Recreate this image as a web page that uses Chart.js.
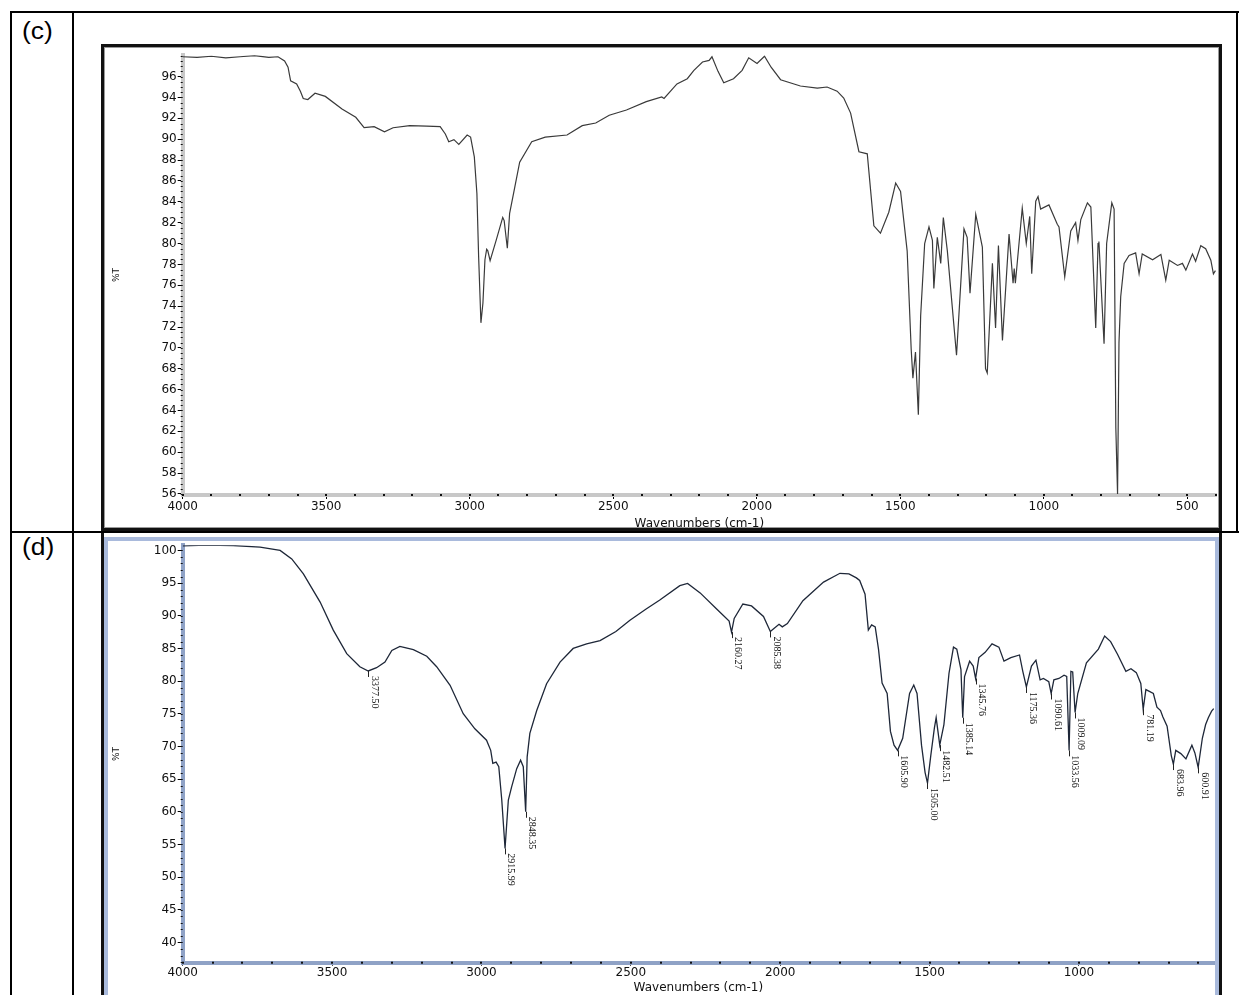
<!DOCTYPE html>
<html>
<head>
<meta charset="utf-8">
<script src="https://cdn.jsdelivr.net/npm/chart.js@4.4.0/dist/chart.umd.min.js"></script>
<style>
html, body { margin: 0; padding: 0; background: #fff; }
body { width: 1239px; height: 995px; position: relative; overflow: hidden; font-family: "Liberation Sans", Arial, sans-serif; }
.ln { position: absolute; background: #000; }
.lab { position: absolute; font-size: 23px; line-height: 23px; transform: scaleX(1.15); transform-origin: left top; color: #000; font-weight: normal; }
#frameC { position: absolute; left: 101px; top: 44px; width: 1121px; height: 487px; box-sizing: border-box; border: 3px solid #111; box-shadow: inset 0 0 0 1px #9a9a9a; }
#frameD { position: absolute; left: 101px; top: 533px; width: 1121px; height: 470px; box-sizing: border-box; border-left: 3px solid #111; border-right: 3px solid #111; }
#innerD { position: absolute; left: 104px; top: 537px; width: 1115px; height: 470px; box-sizing: border-box; border: 4px solid #a9badc; }
canvas { position: absolute; }
</style>
</head>
<body>
<div class="ln" style="left:10px;top:11px;width:1229px;height:2px"></div>
<div class="ln" style="left:10px;top:11px;width:2px;height:984px"></div>
<div class="ln" style="left:72px;top:11px;width:2px;height:984px"></div>
<div class="ln" style="left:1236px;top:11px;width:2px;height:522px"></div>
<div class="ln" style="left:10px;top:531px;width:1229px;height:2px"></div>
<div class="lab" style="left:22px;top:20px">(c)</div>
<div class="lab" style="left:22px;top:536px">(d)</div>
<div id="frameC"></div>
<div id="frameD"></div>
<div id="innerD"></div>
<canvas id="chartC" width="1113" height="484" style="left:105px;top:47px"></canvas>
<canvas id="chartD" width="1110" height="458" style="left:105px;top:537px"></canvas>
<script>
// spectrum (c)
const wavenumbersC = [4000, 3950, 3900, 3850, 3800, 3750, 3700, 3668, 3645, 3633, 3624, 3603, 3590, 3580, 3564, 3539, 3503, 3445, 3397, 3368,
  3333, 3297, 3267, 3209, 3150, 3103, 3085, 3073, 3055, 3038, 3009, 2997, 2984, 2975, 2969, 2961, 2954, 2947, 2941, 2937,
  2929, 2908, 2885, 2880, 2869, 2861, 2843, 2826, 2784, 2737, 2661, 2608, 2561, 2514, 2454, 2385, 2331, 2323, 2278, 2242,
  2219, 2189, 2166, 2156, 2135, 2115, 2081, 2051, 2028, 1999, 1973, 1950, 1917, 1848, 1789, 1755, 1720, 1697, 1673, 1644,
  1615, 1592, 1569, 1540, 1516, 1499, 1476, 1462, 1456, 1447, 1437, 1429, 1415, 1400, 1388, 1383, 1371, 1359, 1350, 1336,
  1304, 1278, 1267, 1257, 1237, 1214, 1203, 1197, 1179, 1168, 1158, 1144, 1121, 1107, 1103, 1099, 1075, 1061, 1049, 1042,
  1028, 1020, 1011, 982, 953, 947, 927, 906, 889, 881, 871, 848, 836, 819, 811, 808, 790, 781, 763, 755,
  749, 743, 738, 732, 720, 703, 680, 668, 657, 621, 592, 575, 563, 534, 517, 505, 482, 471, 453, 436,
  418, 409, 402];
const transmittanceC = [97.9, 97.85, 97.95, 97.8, 97.9, 98.0, 97.85, 97.9, 97.5, 96.9, 95.6, 95.3, 94.6, 93.9, 93.8, 94.4, 94.1, 92.9, 92.1, 91.1,
  91.2, 90.7, 91.1, 91.3, 91.25, 91.2, 90.5, 89.75, 89.96, 89.5, 90.4, 90.2, 88.3, 84.8, 78.75, 72.4, 74.3, 78.45, 79.45, 79.3,
  78.35, 80.3, 82.5, 82.2, 79.55, 82.9, 85.4, 87.8, 89.75, 90.2, 90.4, 91.3, 91.55, 92.3, 92.8, 93.6, 94.05, 93.9, 95.3, 95.8,
  96.6, 97.4, 97.55, 97.9, 96.5, 95.4, 95.8, 96.6, 97.8, 97.25, 97.95, 96.9, 95.7, 95.1, 94.9, 95.0, 94.6, 93.95, 92.5, 88.8,
  88.6, 81.7, 81.0, 83.0, 85.8, 85.0, 79.3, 69.9, 67.1, 69.6, 63.6, 73.05, 80.0, 81.6, 80.3, 75.7, 80.6, 78.1, 82.5, 79.3,
  69.3, 81.4, 80.6, 75.25, 82.8, 79.65, 68.0, 67.6, 78.1, 71.9, 79.8, 70.7, 80.9, 76.2, 77.6, 76.2, 83.4, 80.0, 82.6, 77.1,
  84.05, 84.5, 83.3, 83.7, 81.85, 81.6, 76.8, 81.2, 82.0, 80.3, 82.3, 83.9, 83.5, 71.9, 80.0, 80.2, 70.4, 80.0, 83.9, 83.3,
  62.35, 56.0, 70.5, 74.9, 78.1, 78.85, 79.1, 77.1, 79.0, 78.45, 78.95, 76.5, 78.4, 77.9, 78.1, 77.45, 79.0, 78.3, 79.8, 79.5,
  78.4, 77.1, 77.4];
const xTicksC = [4000, 3500, 3000, 2500, 2000, 1500, 1000, 500];
const yTicksC = [56, 58, 60, 62, 64, 66, 68, 70, 72, 74, 76, 78, 80, 82, 84, 86, 88, 90, 92, 94, 96];

// spectrum (d)
const wavenumbersD = [4000, 3920, 3831, 3741, 3674, 3635, 3596, 3540, 3496, 3451, 3407, 3379, 3351, 3323, 3300, 3273, 3228, 3183, 3150, 3105,
  3061, 3022, 2983, 2969, 2962, 2951, 2942, 2932, 2921, 2910, 2899, 2882, 2869, 2860, 2852, 2847, 2838, 2815, 2782, 2737,
  2693, 2648, 2603, 2550, 2503, 2450, 2403, 2336, 2310, 2268, 2211, 2171, 2163, 2154, 2125, 2096, 2056, 2033, 2021, 2004,
  1993, 1976, 1924, 1855, 1800, 1770, 1745, 1734, 1716, 1705, 1694, 1682, 1671, 1659, 1642, 1631, 1619, 1607, 1590, 1567,
  1553, 1542, 1527, 1515, 1507, 1496, 1484, 1478, 1472, 1466, 1452, 1435, 1420, 1409, 1395, 1389, 1383, 1366, 1354, 1346,
  1335, 1314, 1291, 1268, 1251, 1228, 1199, 1188, 1176, 1159, 1144, 1130, 1119, 1101, 1093, 1084, 1067, 1050, 1041, 1033,
  1027, 1021, 1013, 1004, 975, 935, 914, 894, 871, 843, 826, 808, 793, 785, 776, 751, 739, 727, 719, 705,
  691, 684, 676, 659, 642, 622, 612, 601, 587, 576, 567, 556, 549];
const transmittanceD = [100.7, 100.8, 100.75, 100.5, 100.0, 98.7, 96.4, 92.1, 87.8, 84.2, 82.2, 81.55, 82.05, 82.9, 84.7, 85.3, 84.8, 83.8, 82.2, 79.35,
  75.0, 72.7, 70.95, 69.4, 67.4, 67.6, 66.9, 61.8, 54.4, 61.8, 63.8, 66.6, 67.9, 66.9, 60.0, 68.4, 72.0, 75.5, 79.6, 82.9,
  85.0, 85.7, 86.2, 87.6, 89.3, 91.0, 92.4, 94.6, 94.95, 93.5, 90.95, 89.2, 87.5, 89.6, 91.8, 91.5, 89.9, 87.6, 88.05, 88.7,
  88.3, 88.8, 92.3, 95.15, 96.5, 96.4, 95.8, 95.4, 93.3, 87.8, 88.6, 88.3, 84.9, 79.7, 78.1, 72.3, 70.2, 69.4, 71.25, 78.1,
  79.4, 78.1, 70.2, 66.0, 64.4, 68.6, 72.8, 74.4, 72.3, 70.2, 73.35, 81.2, 85.2, 84.9, 81.75, 74.4, 80.7, 83.05, 82.3, 80.4,
  83.6, 84.4, 85.7, 85.2, 83.05, 83.6, 84.0, 81.5, 79.1, 82.3, 83.2, 80.2, 80.4, 79.9, 78.1, 80.2, 80.4, 80.9, 80.7, 69.4,
  81.5, 81.4, 75.2, 78.1, 82.8, 84.9, 86.9, 86.05, 84.1, 81.5, 81.9, 81.3, 79.65, 75.7, 78.7, 78.1, 76.0, 75.5, 74.5, 73.1,
  68.6, 67.3, 69.4, 68.9, 68.1, 70.2, 69.0, 66.8, 71.25, 73.35, 74.4, 75.4, 75.8];
const xTicksD = [4000, 3500, 3000, 2500, 2000, 1500, 1000];
const yTicksD = [40, 45, 50, 55, 60, 65, 70, 75, 80, 85, 90, 95, 100];

// peak marks of (d): where they sit on the curve, and their printed text
const peakAtD = [3379, 2921, 2852, 2163, 2033, 1607, 1507, 1466, 1389, 1346, 1176, 1093, 1033, 1013, 785, 684, 601];
const peakLabelsD = ['3377.50', '2915.99', '2848.35', '2160.27', '2085.38', '1605.90', '1505.00', '1482.51', '1385.14',
  '1345.76', '1175.36', '1090.61', '1033.56', '1009.09', '781.19', '683.96', '600.91'];

const tickFont = { family: 'DejaVu Sans', size: 12 };

const minorTicks = {
  id: 'minorTicks',
  afterDraw(chart, args, opts) {
    const { ctx, chartArea: a, scales: { x, y } } = chart;
    ctx.save();
    ctx.fillStyle = '#111';
    const nx = Math.floor((x.max - x.min) / opts.x);
    for (let i = 0; i <= nx; i++) {
      const v = Math.ceil(x.min / opts.x) * opts.x + i * opts.x;
      if (v > x.max) break;
      const px = Math.round(x.getPixelForValue(v));
      ctx.fillRect(px - 1, a.bottom - 1, 2, 2);
    }
    const ny = Math.floor((y.max - y.min) / opts.y);
    for (let i = 0; i <= ny; i++) {
      const v = Math.ceil(y.min / opts.y) * opts.y + i * opts.y;
      if (v > y.max) break;
      const py = Math.round(y.getPixelForValue(v));
      ctx.fillRect(a.left - 2, py, 2, 1);
    }
    ctx.restore();
  }
};

const peakMarks = {
  id: 'peakMarks',
  afterDatasetsDraw(chart) {
    const { ctx, scales: { x, y } } = chart;
    const pts = chart.data.datasets[0].data;
    ctx.save();
    ctx.strokeStyle = '#222';
    ctx.fillStyle = '#111';
    ctx.lineWidth = 1;
    ctx.font = '10px "Liberation Serif"';
    ctx.textAlign = 'left';
    ctx.textBaseline = 'middle';
    peakAtD.forEach((w, i) => {
      let best = pts[0];
      pts.forEach(p => { if (Math.abs(p.x - w) < Math.abs(best.x - w)) best = p; });
      const px = x.getPixelForValue(w);
      const py = y.getPixelForValue(best.y);
      ctx.beginPath();
      ctx.moveTo(Math.round(px) + 0.5, py);
      ctx.lineTo(Math.round(px) + 0.5, py + 6);
      ctx.stroke();
      ctx.save();
      ctx.translate(px + 6, py + 5);
      ctx.rotate(Math.PI / 2);
      ctx.fillText(peakLabelsD[i], 0, 0);
      ctx.restore();
    });
    ctx.restore();
  }
};

function makeSpectrum(id, xs, ys, cfg) {
  const pts = xs.map((w, i) => ({ x: w, y: ys[i] }));
  return new Chart(document.getElementById(id), {
    type: 'line',
    data: {
      datasets: [{
        data: pts,
        borderColor: cfg.lineColor,
        borderWidth: cfg.lineWidth,
        pointRadius: 0,
        tension: 0,
        fill: false
      }]
    },
    options: {
      responsive: false,
      animation: false,
      devicePixelRatio: 1,
      layout: { padding: cfg.padding },
      plugins: {
        legend: { display: false },
        tooltip: { enabled: false },
        minorTicks: { x: 100, y: cfg.minorY }
      },
      scales: {
        x: {
          type: 'linear',
          reverse: true,
          min: cfg.xMin,
          max: 4000,
          afterBuildTicks: s => { s.ticks = cfg.xTicks.map(v => ({ value: v })); },
          afterFit: s => { s.height = cfg.xHeight; },
          ticks: { autoSkip: false, maxRotation: 0, padding: cfg.xPad, color: '#111', font: tickFont, callback: v => String(v) },
          grid: { drawOnChartArea: false, tickLength: cfg.xTickLen, tickColor: '#000', tickWidth: 1 },
          border: { color: cfg.axisColor, width: 4 },
          title: { display: true, text: 'Wavenumbers (cm-1)', color: '#111', font: { family: 'DejaVu Sans', size: 12 }, padding: { top: 0, bottom: 0 } }
        },
        y: {
          type: 'linear',
          min: cfg.yMin,
          max: cfg.yMax,
          afterBuildTicks: s => { s.ticks = cfg.yTicks.map(v => ({ value: v })); },
          afterFit: s => { s.width = 77.7; },
          ticks: { autoSkip: false, padding: 1, color: '#111', font: tickFont, callback: v => String(v) },
          grid: { drawOnChartArea: false, tickLength: 5, tickColor: '#000', tickWidth: 1 },
          border: { color: cfg.axisColor, width: 4 },
          title: { display: true, text: '%T', color: '#111', font: { family: 'DejaVu Sans', size: 9 }, padding: { top: 6, bottom: 0 } }
        }
      }
    },
    plugins: cfg.plugins
  });
}

makeSpectrum('chartC', wavenumbersC, transmittanceC, {
  lineColor: '#3a3a3a', lineWidth: 1.2, axisColor: '#c8c8c8',
  padding: { left: 0, top: 1, right: 2, bottom: 0 },
  xMin: 400, yMin: 55.9, yMax: 98.05, xTicks: xTicksC, yTicks: yTicksC,
  xHeight: 36, xPad: 1, xTickLen: 4, minorY: 0.5,
  plugins: [minorTicks]
});

makeSpectrum('chartD', wavenumbersD, transmittanceD, {
  lineColor: '#1e2738', lineWidth: 1.3, axisColor: '#8fa2c6',
  padding: { left: 0, top: 8, right: 1, bottom: 0 },
  xMin: 548, yMin: 36.9, yMax: 100.8, xTicks: xTicksD, yTicks: yTicksD,
  xHeight: 32.3, xPad: 0, xTickLen: 3, minorY: 1,
  plugins: [minorTicks, peakMarks]
});
</script>
</body>
</html>
